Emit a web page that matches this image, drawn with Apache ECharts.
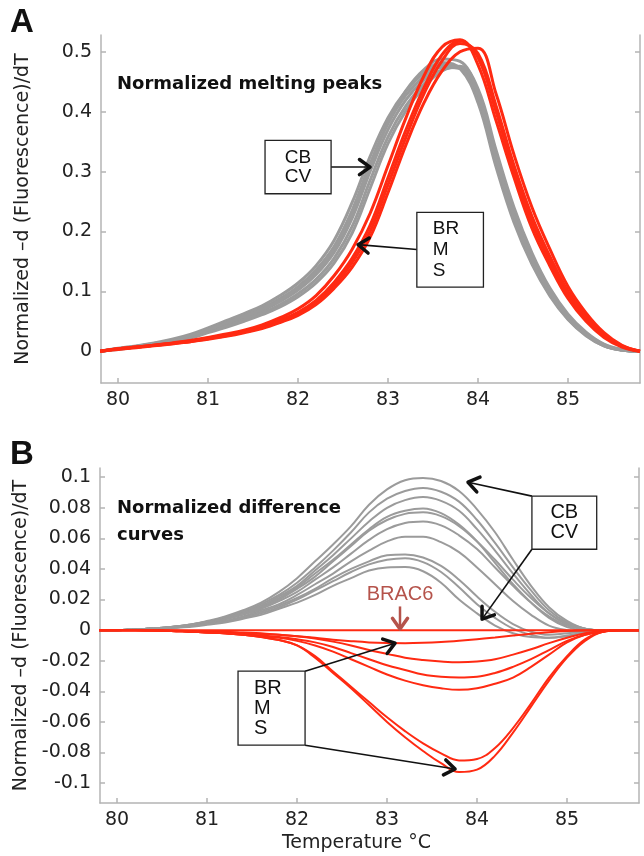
<!DOCTYPE html>
<html>
<head>
<meta charset="utf-8">
<script src="https://cdn.jsdelivr.net/npm/echarts@6/dist/echarts.min.js"></script>
<style>
html, body { margin: 0; padding: 0; background: #fff; }
#chart { width: 644px; height: 856px; }
</style>
</head>
<body>
<div id="chart"></div>
<script>
// temperature samples shared by every curve
var temps = [79.8, 80.0, 80.2, 80.4, 80.6, 80.8, 81.0, 81.2, 81.4, 81.6, 81.8, 82.0, 82.2, 82.4, 82.6, 82.8,
             83.0, 83.2, 83.4, 83.6, 83.8, 84.0, 84.2, 84.4, 84.6, 84.8, 85.0, 85.2, 85.4, 85.6, 85.8];
var tempTicks = [80, 81, 82, 83, 84, 85];
var meltTicks = [0, 0.1, 0.2, 0.3, 0.4, 0.5];
var diffTicks = [-0.1, -0.08, -0.06, -0.04, -0.02, 0, 0.02, 0.04, 0.06, 0.08, 0.1];

// A: normalized melting peaks (CB / CV, grey)
var meltGray1 = [0, .005, .009, .014, .020, .028, .039, .051, .063, .076, .093, .114, .143, .185, .248, .325, .39, .435, .465, .482, .472, .415, .308, .215, .145, .092, .053, .026, .009, .002, 0];
var meltGray2 = [0, .004, .008, .013, .018, .026, .037, .048, .060, .072, .088, .108, .136, .175, .235, .313, .38, .428, .459, .478, .472, .42, .314, .22, .148, .094, .054, .027, .009, .002, 0];
var meltGray3 = [0, .004, .008, .012, .017, .025, .035, .045, .056, .068, .083, .102, .128, .165, .222, .30, .37, .42, .453, .474, .472, .425, .32, .225, .152, .097, .056, .028, .01, .002, 0];
var meltGray4 = [0, .004, .007, .011, .016, .023, .033, .043, .053, .064, .078, .096, .12, .155, .208, .285, .358, .41, .446, .47, .474, .432, .328, .232, .158, .101, .059, .030, .011, .002, 0];
var meltGray5 = [0, .003, .007, .010, .015, .022, .031, .040, .050, .061, .074, .091, .114, .147, .197, .272, .347, .402, .441, .468, .476, .438, .336, .24, .164, .105, .062, .032, .012, .003, 0];
var meltGray6 = [0, .004, .008, .012, .017, .026, .036, .047, .058, .070, .085, .105, .132, .171, .23, .31, .382, .435, .47, .488, .484, .43, .322, .225, .152, .097, .056, .028, .01, .002, 0];

// A: BR / M / S (red)
var meltRed1 = [0, .004, .007, .010, .014, .018, .023, .029, .035, .044, .056, .071, .093, .126, .17, .23, .31, .39, .46, .508, .52, .478, .385, .29, .205, .142, .088, .05, .023, .007, 0];
var meltRed2 = [0, .004, .007, .010, .013, .017, .022, .027, .033, .041, .052, .065, .085, .115, .155, .21, .29, .37, .44, .495, .518, .49, .40, .30, .215, .15, .095, .055, .026, .008, 0];
var meltRed3 = [0, .004, .007, .010, .013, .016, .021, .026, .032, .039, .050, .062, .081, .11, .148, .2, .278, .358, .43, .485, .514, .497, .41, .31, .225, .158, .1, .059, .028, .009, 0];
var meltRed4 = [0, .003, .006, .009, .012, .016, .020, .025, .031, .038, .048, .060, .078, .105, .14, .19, .265, .345, .415, .468, .50, .506, .43, .328, .24, .17, .108, .064, .031, .01, 0];

// B: normalized difference curves (grey)
var diffGray1 = [0, 0, .0005, .001, .002, .0035, .006, .009, .013, .018, .025, .034, .045, .056, .068, .082, .092, .098, .0995, .0975, .091, .079, .064, .046, .029, .015, .006, .001, 0, 0, 0];
var diffGray2 = [0, 0, .0005, .001, .002, .0035, .0055, .0085, .012, .017, .023, .031, .041, .052, .064, .077, .086, .091, .093, .0905, .084, .072, .057, .041, .026, .013, .005, .001, 0, 0, 0];
var diffGray3 = [0, 0, .0005, .001, .002, .0035, .0055, .008, .012, .016, .022, .029, .039, .049, .06, .071, .08, .085, .087, .0845, .078, .066, .052, .037, .023, .011, .004, .001, 0, 0, 0];
var diffGray4 = [0, 0, .0005, .001, .002, .003, .005, .0075, .011, .015, .021, .028, .037, .046, .056, .066, .074, .078, .0795, .0765, .069, .058, .044, .03, .018, .008, .002, 0, 0, 0, 0];
var diffGray5 = [0, 0, .0005, .001, .002, .003, .005, .0075, .011, .015, .02, .027, .035, .045, .055, .065, .072, .076, .077, .0745, .068, .058, .046, .033, .021, .011, .004, .001, 0, 0, 0];
var diffGray6 = [0, 0, .0005, .001, .0015, .003, .0045, .007, .01, .014, .019, .025, .033, .041, .05, .059, .066, .07, .071, .0685, .062, .053, .041, .029, .018, .009, .003, .0005, 0, 0, 0];
var diffGray7 = [0, 0, .0005, .001, .0015, .0025, .004, .006, .009, .013, .017, .023, .03, .037, .045, .052, .058, .061, .061, .0575, .051, .041, .03, .019, .01, .003, 0, -.001, -.0005, 0, 0];
var diffGray8 = [0, 0, .0005, .001, .0015, .0025, .004, .006, .0085, .012, .016, .021, .027, .034, .04, .045, .049, .0495, .0475, .042, .033, .022, .012, .004, -.001, -.003, -.002, -.001, 0, 0, 0];
var diffGray9 = [0, 0, .0005, .001, .0015, .0025, .004, .0055, .008, .011, .015, .02, .026, .032, .038, .043, .046, .047, .0445, .038, .028, .017, .008, .001, -.003, -.005, -.004, -.002, -.0005, 0, 0];
var diffGray10 = [0, 0, .0005, .001, .0015, .002, .0035, .005, .0075, .01, .014, .018, .023, .029, .034, .039, .041, .0412, .0385, .031, .02, .011, .003, -.002, -.0045, -.005, -.0035, -.0015, 0, 0, 0];

// B: red difference curves, diffRed0 is the BRAC6 reference
var diffRed0 = [0, 0, 0, 0, 0, 0, 0, 0, 0, 0, 0, 0, 0, 0, 0, 0, 0, 0, 0, 0, 0, 0, 0, 0, 0, 0, 0, 0, 0, 0, 0];
var diffRed1 = [0, 0, 0, -.0002, -.0003, -.0005, -.0008, -.001, -.0015, -.002, -.003, -.004, -.005, -.0062, -.0072, -.008, -.0084, -.0085, -.0083, -.0078, -.007, -.006, -.0048, -.0035, -.0023, -.0013, -.0006, -.0002, 0, 0, 0];
var diffRed2 = [0, 0, 0, -.0002, -.0004, -.0007, -.001, -.0015, -.002, -.0025, -.003, -.004, -.0055, -.0075, -.01, -.013, -.0155, -.018, -.0195, -.0205, -.021, -.0205, -.019, -.016, -.0125, -.0085, -.005, -.002, -.0005, 0, 0];
var diffRed3 = [0, 0, 0, -.0003, -.0005, -.001, -.0015, -.002, -.0025, -.0035, -.0045, -.006, -.008, -.011, -.015, -.019, -.023, -.026, -.029, -.0305, -.031, -.0305, -.028, -.024, -.019, -.013, -.007, -.003, -.001, 0, 0];
var diffRed4 = [0, 0, 0, -.0003, -.0005, -.001, -.0015, -.002, -.003, -.004, -.005, -.007, -.01, -.014, -.019, -.024, -.029, -.033, -.036, -.038, -.039, -.038, -.035, -.031, -.024, -.016, -.008, -.003, -.001, 0, 0];
var diffRed5 = [0, 0, 0, -.0003, -.0005, -.001, -.0015, -.002, -.003, -.0045, -.0065, -.010, -.017, -.027, -.037, -.047, -.057, -.066, -.074, -.0805, -.0852, -.0842, -.077, -.064, -.048, -.031, -.017, -.006, -.001, 0, 0];
var diffRed6 = [0, 0, 0, -.0003, -.0005, -.001, -.0015, -.002, -.003, -.0045, -.0065, -.010, -.018, -.028, -.038, -.049, -.060, -.070, -.079, -.087, -.0928, -.0912, -.082, -.067, -.050, -.033, -.018, -.007, -.001, 0, 0];

var meltGrayCurves = [meltGray1, meltGray2, meltGray3, meltGray4, meltGray5, meltGray6];
var meltRedCurves = [meltRed1, meltRed2, meltRed3, meltRed4];
var diffGrayCurves = [diffGray1, diffGray2, diffGray3, diffGray4, diffGray5, diffGray6, diffGray7, diffGray8, diffGray9, diffGray10];
var diffRedCurves = [diffRed0, diffRed1, diffRed2, diffRed3, diffRed4, diffRed5, diffRed6];

var GRAY = '#9b9b9b';
var RED = '#ff2a12';
var AXIS = '#b4b4b4';
var FONT = 'DejaVu Sans';

var chart = echarts.init(document.getElementById('chart'), null, {renderer: 'canvas'});

function curve(values, color, yIdx, xIdx, width) {
    return {
        type: 'line',
        xAxisIndex: xIdx,
        yAxisIndex: yIdx,
        data: temps.map(function (t, i) { return [t, values[i]]; }),
        showSymbol: false,
        smooth: 0.4,
        silent: true,
        lineStyle: {color: color, width: width},
        animation: false
    };
}

function valueX(grid, withName) {
    var ax = {
        gridIndex: grid, type: 'value', min: 79.81, max: 85.8,
        axisLine: {onZero: false, lineStyle: {color: AXIS, width: 1.5}},
        axisTick: {inside: true, length: 5, customValues: tempTicks, lineStyle: {color: AXIS, width: 1.5}},
        axisLabel: {customValues: tempTicks, fontSize: 19, fontFamily: FONT, color: '#222', margin: 8},
        splitLine: {show: false}
    };
    if (withName) {
        ax.name = 'Temperature °C';
        ax.nameLocation = 'middle';
        ax.nameGap = 31;
        ax.nameTextStyle = {fontSize: 19, fontFamily: FONT, color: '#222', padding: [0, 26, 0, 0]};
    }
    return ax;
}

function leftY(grid, min, max, ticks) {
    return {
        gridIndex: grid, type: 'value', min: min, max: max, position: 'left',
        name: 'Normalized \u2013d (Fluorescence)/dT', nameLocation: 'middle', nameGap: 68,
        nameTextStyle: {fontSize: 19, fontFamily: FONT, color: '#222'},
        axisLine: {show: true, onZero: false, lineStyle: {color: AXIS, width: 1.5}},
        axisTick: {inside: true, length: 5, customValues: ticks, lineStyle: {color: AXIS, width: 1.5}},
        axisLabel: {customValues: ticks, fontSize: 19, fontFamily: FONT, color: '#222', margin: 9},
        splitLine: {show: false}
    };
}

function rightY(grid, min, max, ticks) {
    return {
        gridIndex: grid, type: 'value', min: min, max: max, position: 'right',
        axisLine: {show: true, onZero: false, lineStyle: {color: AXIS, width: 1.5}},
        axisTick: {inside: true, length: 5, customValues: ticks, lineStyle: {color: AXIS, width: 1.5}},
        axisLabel: {show: false},
        splitLine: {show: false}
    };
}

var series = [];
meltGrayCurves.forEach(function (c) { series.push(curve(c, GRAY, 0, 0, 3)); });
meltRedCurves.forEach(function (c) { series.push(curve(c, RED, 0, 0, 3)); });
diffGrayCurves.forEach(function (c) { series.push(curve(c, GRAY, 2, 1, 2)); });
diffRedCurves.forEach(function (c) { series.push(curve(c, RED, 2, 1, 2)); });

chart.setOption({
    animation: false,
    backgroundColor: '#fff',
    grid: [
        {left: 101, right: 4, top: 35, height: 348},
        {left: 100, right: 5, top: 468, height: 335}
    ],
    xAxis: [valueX(0, false), valueX(1, true)],
    yAxis: [
        leftY(0, -0.053, 0.528, meltTicks),
        rightY(0, -0.053, 0.528, meltTicks),
        leftY(1, -0.113, 0.106, diffTicks),
        rightY(1, -0.113, 0.106, diffTicks)
    ],
    series: series
});

// annotation boxes and arrows, anchored in data coordinates
var meltNotes = [
    {box: [81.633, 0.352, 82.367, 0.263], lines: ['CB', 'CV'], align: 'center', size: 19, lh: 19,
     arrows: [[[82.367, 0.3075], [82.8, 0.3075]]]},
    {box: [83.32, 0.232, 84.06, 0.107], lines: ['BR', 'M', 'S'], align: 'left', size: 19, lh: 21,
     arrows: [[[83.32, 0.17], [82.667, 0.178]]]}
];
var diffNotes = [
    {box: [84.61, 0.0876, 85.33, 0.0529], lines: ['CB', 'CV'], align: 'center', size: 20, lh: 20,
     arrows: [[[84.61, 0.0876], [83.9, 0.0967]], [[84.61, 0.0529], [84.056, 0.0072]]]},
    {box: [81.344, -0.0268, 82.089, -0.0752], lines: ['BR', 'M', 'S'], align: 'left', size: 20, lh: 20,
     arrows: [[[82.089, -0.0268], [83.089, -0.0085]], [[82.089, -0.0752], [83.756, -0.0908]]]}
];
var brac6 = {at: [83.144, 0.0235], from: [83.144, 0.0155], to: [83.144, 0.0008]};

function px(grid, p) { return chart.convertToPixel({gridIndex: grid}, p); }

function arrowEls(a, b, color, shaftW) {
    var ang = Math.atan2(b[1] - a[1], b[0] - a[0]);
    var L = 13, s = 0.62;
    var h1 = [b[0] - L * Math.cos(ang - s), b[1] - L * Math.sin(ang - s)];
    var h2 = [b[0] - L * Math.cos(ang + s), b[1] - L * Math.sin(ang + s)];
    return [
        {type: 'line', z: 100, shape: {x1: a[0], y1: a[1], x2: b[0], y2: b[1]},
         style: {stroke: color, lineWidth: shaftW}},
        {type: 'polyline', z: 101, shape: {points: [h1, b, h2]},
         style: {stroke: color, lineWidth: 3.5, fill: null, lineCap: 'round', lineJoin: 'round'}}
    ];
}

function noteEls(grid, n) {
    var els = [];
    n.arrows.forEach(function (ar) {
        els = els.concat(arrowEls(px(grid, ar[0]), px(grid, ar[1]), '#111', 1.6));
    });
    var p0 = px(grid, [n.box[0], n.box[1]]);
    var p1 = px(grid, [n.box[2], n.box[3]]);
    els.push({type: 'rect', z: 102, shape: {x: p0[0], y: p0[1], width: p1[0] - p0[0], height: p1[1] - p0[1]},
              style: {fill: '#fff', stroke: '#222', lineWidth: 1.3}});
    var tx = n.align === 'center' ? (p0[0] + p1[0]) / 2 : p0[0] + 16;
    els.push({type: 'text', z: 103, x: tx, y: (p0[1] + p1[1]) / 2,
              style: {text: n.lines.join('\n'), font: n.size + 'px "Liberation Sans", Arial, sans-serif',
                      fill: '#111', align: n.align, verticalAlign: 'middle', lineHeight: n.lh}});
    return els;
}

var graphics = [];
meltNotes.forEach(function (n) { graphics = graphics.concat(noteEls(0, n)); });
diffNotes.forEach(function (n) { graphics = graphics.concat(noteEls(1, n)); });

var bp = px(1, brac6.at);
graphics.push({type: 'text', z: 103, x: bp[0], y: bp[1],
               style: {text: 'BRAC6', font: '20px "Liberation Sans", Arial, sans-serif', fill: '#b5534b',
                       align: 'center', verticalAlign: 'middle'}});
graphics = graphics.concat(arrowEls(px(1, brac6.from), px(1, brac6.to), '#b5534b', 2.5));

// panel letters and titles
graphics.push({type: 'text', z: 103, x: 10, y: 6,
               style: {text: 'A', font: 'bold 33px "Liberation Sans", Arial, sans-serif', fill: '#111'}});
graphics.push({type: 'text', z: 103, x: 10, y: 438,
               style: {text: 'B', font: 'bold 33px "Liberation Sans", Arial, sans-serif', fill: '#111'}});
graphics.push({type: 'text', z: 103, x: 117, y: 84,
               style: {text: 'Normalized melting peaks', font: 'bold 18px "DejaVu Sans"', fill: '#111', verticalAlign: 'middle'}});
graphics.push({type: 'text', z: 103, x: 117, y: 508,
               style: {text: 'Normalized difference', font: 'bold 18px "DejaVu Sans"', fill: '#111', verticalAlign: 'middle'}});
graphics.push({type: 'text', z: 103, x: 117, y: 535,
               style: {text: 'curves', font: 'bold 18px "DejaVu Sans"', fill: '#111', verticalAlign: 'middle'}});

chart.setOption({graphic: graphics});
</script>
</body>
</html>
